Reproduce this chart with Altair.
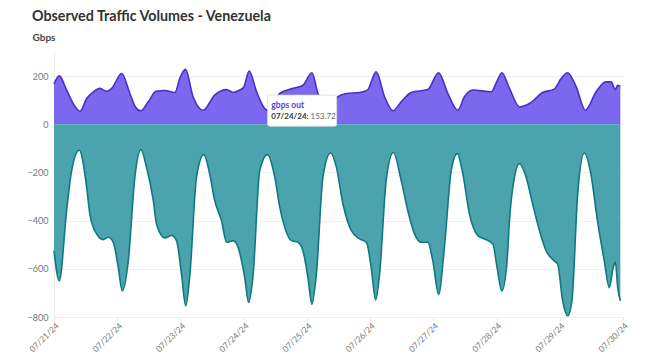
import altair as alt
import pandas as pd

START = "2024-07-21"

# gbps out (positive, purple) — hours since 07/21/24 00:00 and values
out_hours = [0, 2, 4.8, 7.3, 9.9, 12.4, 14.7, 17.4, 20, 21.9, 25.7, 28.8, 30.9, 32.9, 35.8,
             38.7, 42.1, 45.9, 47.8, 49.9, 52.8, 56.6, 61, 65.5, 68, 70.5, 72, 74.1, 76.9,
             80, 81.5, 85.7, 90.7, 94.5, 97.9, 100.2, 104, 107.8, 111, 116, 119, 122.3,
             125.5, 128.7, 131.8, 135.6, 141.9, 146, 149.5, 153.3, 155.8, 159, 166, 168,
             170, 172.9, 176.7, 180.5, 185.5, 189.9, 192.5, 195, 198.2, 201.7, 205.8,
             209.5, 211.5, 213.1, 213.9, 215]
out_vals = [167, 201, 142, 86, 54, 107, 132, 149, 137, 149, 211, 128, 72, 56, 93,
            137, 140, 132, 192, 228, 114, 58, 121, 144, 132, 142, 153.72, 221, 135,
            65, 55, 128, 149, 162, 214, 128, 62, 115, 128, 132, 142, 218,
            114, 56, 93, 132, 144, 214, 128, 58, 114, 142, 135, 175,
            214, 149, 72, 86, 132, 146, 190, 214, 156, 58, 135,
            176, 176, 144, 162, 158]

# gbps in (negative, teal)
in_hours = [0, 2, 4.8, 6.7, 9.6, 12.4, 13.6, 16.2, 18.7, 20.6, 22.5, 24.4, 25.9, 28.2, 30.7,
            33, 35.1, 37.7, 38.9, 42.1, 44.6, 46.5, 48.4, 50, 51.6, 54.1, 56.9, 59.1, 61,
            63.6, 65.5, 68, 69.9, 72.4, 73.9, 75.6, 78.1, 81, 83.8, 85.7, 87.6, 90.1, 92.6,
            94.5, 96.4, 97.9, 99.6, 102.1, 105, 107.2, 109.7, 112.9, 116, 118.6, 120.4,
            122.1, 123.6, 126.1, 128.8, 131.8, 134.3, 136.9, 139.4, 141.9, 143.8, 146,
            148.2, 150.8, 153.1, 155.2, 157.7, 160.9, 163.4, 166.6, 168.2, 170, 172,
            172.9, 174.8, 176.7, 179.2, 181.7, 184.3, 186.8, 189.9, 191.2, 193.1, 195,
            196.6, 198.8, 201.3, 203.8, 206.3, 208.9, 210.8, 212.3, 213.1, 214, 215]
in_vals = [-525, -650, -358, -192, -108, -261, -372, -456, -479, -469, -490, -594, -692, -567, -219,
           -106, -178, -317, -414, -472, -462, -483, -622, -754, -622, -219, -126, -206, -317,
           -400, -490, -483, -511, -636, -740, -622, -192, -126, -219, -344, -428, -483, -490,
           -525, -636, -747, -622, -219, -119, -178, -331, -442, -476, -490, -594,
           -729, -622, -233, -117, -233, -358, -456, -490, -490, -567, -706,
           -511, -192, -122, -206, -372, -462, -476, -497, -594, -692, -567,
           -400, -219, -164, -219, -331, -442, -525, -567, -581, -733, -795,
           -733, -289, -119, -206, -400, -567, -678, -594, -572, -678, -733]

y_ticks = [-800, -600, -400, -200, 0, 200]
day_ticks = [21, 22, 23, 24, 25, 26, 27, 28, 29, 30]

# hover tooltip shown in the picture
tip_series = "gbps out"
tip_date = "07/24/24:"
tip_value = "153.72"


def to_time(hours):
    t = pd.Timestamp(START) + pd.to_timedelta(hours, unit="h")
    return [x.strftime("%Y-%m-%dT%H:%M:%S") for x in t]


out_df = pd.DataFrame({"time": to_time(out_hours), "gbps": out_vals})
in_df = pd.DataFrame({"time": to_time(in_hours), "gbps": in_vals})

x_scale = alt.Scale(domain=[alt.DateTime(year=2024, month=7, date=21),
                            alt.DateTime(year=2024, month=7, date=30)])
y_scale = alt.Scale(domain=[-800, 300], nice=False)

x_enc = alt.X("time:T", scale=x_scale, title=None,
              axis=alt.Axis(format="%m/%d/%y", labelAngle=-45,
                            values=[alt.DateTime(year=2024, month=7, date=d) for d in day_ticks],
                            grid=False, tickSize=3, tickColor="#e6e6e6",
                            domainColor="#eeeeee", labelColor="#777777",
                            labelFontSize=8.5, labelFont="Lato", labelPadding=1))
y_enc = alt.Y("gbps:Q", scale=y_scale, title="Gbps",
              axis=alt.Axis(values=y_ticks, ticks=False, labelPadding=6,
                            gridColor="#f0f0f0", domainColor="#eeeeee",
                            labelColor="#777777", labelFontSize=9, labelFont="Lato",
                            titleAngle=0, titleAlign="left", titleBaseline="alphabetic",
                            titleX=-22, titleY=-12, titleFont="Lato",
                            titleFontSize=10, titleFontWeight="bold",
                            titleColor="#444444"))

out_area = alt.Chart(out_df).mark_area(
    interpolate="monotone", color="#7b68ee", opacity=1,
    line={"color": "#4a2fc6", "strokeWidth": 1.6}
).encode(x=x_enc, y=y_enc, y2=alt.datum(0))

in_area = alt.Chart(in_df).mark_area(
    interpolate="monotone", color="#4ba3ad", opacity=1,
    line={"color": "#11787f", "strokeWidth": 1.6}
).encode(x=x_enc, y=y_enc, y2=alt.datum(0))

box_df = pd.DataFrame({"t0": to_time([81.1]), "t1": to_time([107.3]),
                       "v0": [-8], "v1": [121]})
box = alt.Chart(box_df).mark_rect(
    fill="white", stroke="#dddddd", strokeWidth=0.8, cornerRadius=2
).encode(x="t0:T", x2="t1:T", y="v0:Q", y2="v1:Q")

txt_df = pd.DataFrame({
    "time": to_time([82.5, 82.5, 97.4]),
    "gbps": [68, 21, 21],
    "label": [tip_series, tip_date, tip_value],
    "kind": ["series", "date", "value"],
})
t1 = alt.Chart(txt_df[txt_df.kind == "series"]).mark_text(
    align="left", baseline="alphabetic", font="Lato", fontSize=8.5,
    fontWeight="bold", color="#5a3fdc"
).encode(x="time:T", y="gbps:Q", text="label:N")
t2 = alt.Chart(txt_df[txt_df.kind == "date"]).mark_text(
    align="left", baseline="alphabetic", font="Lato", fontSize=8,
    fontWeight="bold", color="#333333"
).encode(x="time:T", y="gbps:Q", text="label:N")
t3 = alt.Chart(txt_df[txt_df.kind == "value"]).mark_text(
    align="left", baseline="alphabetic", font="Lato", fontSize=8,
    color="#666666"
).encode(x="time:T", y="gbps:Q", text="label:N")

chart = alt.layer(out_area, in_area, box, t1, t2, t3).properties(
    width=569, height=265,
    title=alt.TitleParams("Observed Traffic Volumes - Venezuela", anchor="start",
                          frame="group", dx=-22, font="Lato", fontSize=14.3,
                          fontWeight="bold", color="#333333", offset=8),
    autosize=alt.AutoSizeParams(type="none"),
    padding={"left": 46, "top": 44, "right": 18, "bottom": 38},
).configure_view(stroke=None)

chart.save("out.html", embed_options={"renderer": "svg", "actions": False})
